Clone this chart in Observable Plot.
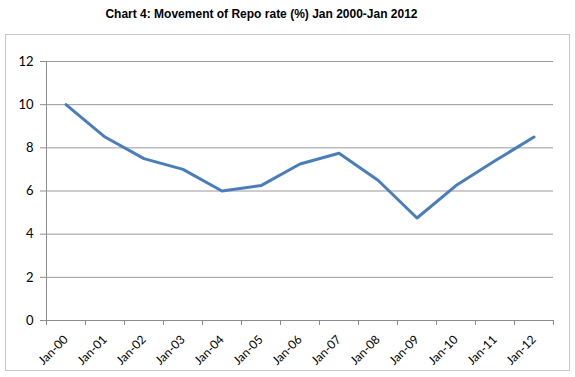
<!DOCTYPE html>
<html><head><meta charset="utf-8">
<script src="https://cdn.jsdelivr.net/npm/d3@7"></script>
<script src="https://cdn.jsdelivr.net/npm/@observablehq/plot@0.6"></script>
<style>
body{margin:0;background:#fff;}
#wrap{position:relative;width:575px;height:377px;}
#title{position:absolute;left:0;top:7px;width:523px;text-align:center;font:bold 12px "Liberation Sans",Arial,sans-serif;color:#000;}
#box{position:absolute;left:5px;top:34px;width:563px;height:335px;border:1px solid #c8c8c8;}
#box svg{display:block;}
</style></head><body>
<div id="wrap"><div id="title">Chart 4: Movement of Repo rate (%) Jan 2000-Jan 2012</div><div id="box"></div></div>
<script>
const categories = ["Jan-00","Jan-01","Jan-02","Jan-03","Jan-04","Jan-05","Jan-06","Jan-07","Jan-08","Jan-09","Jan-10","Jan-11","Jan-12"];
const values = [10, 8.5, 7.5, 7, 6, 6.25, 7.25, 7.75, 6.5, 4.75, 6.25, 7.4, 8.5];
const yTicks = [0, 2, 4, 6, 8, 10, 12];

const data = categories.map((c, i) => ({i, c, v: values[i]}));
const centers = d3.range(categories.length);
const edges = d3.range(categories.length + 1).map(i => i - 0.5);

const chart = Plot.plot({
  width: 563, height: 335,
  marginLeft: 40, marginRight: 16, marginTop: 26, marginBottom: 50,
  style: {fontFamily: "Lato, 'Open Sans', sans-serif", fontSize: "13px", color: "#000", background: "transparent"},
  x: {type: "linear", domain: [-0.5, categories.length - 0.5]},
  y: {domain: [0, 12]},
  marks: [
    Plot.gridY(yTicks, {stroke: "#9a9a9a", strokeOpacity: 1}),
    Plot.frame({anchor: "left", stroke: "#8c8c8c"}),
    Plot.frame({anchor: "bottom", stroke: "#8c8c8c"}),
    Plot.axisY(yTicks, {tickSize: 6, tickPadding: 7, stroke: "#8c8c8c", label: null}),
    Plot.axisX(edges, {tickSize: 5, tickFormat: () => "", stroke: "#8c8c8c", label: null}),
    Plot.axisX(centers, {tickSize: 0, tickPadding: 17, fontSize: 12, tickFormat: i => categories[i], tickRotate: -45, label: null}),
    Plot.lineY(data, {x: "i", y: "v", stroke: "#4a7ebb", strokeWidth: 3})
  ]
});
document.getElementById("box").appendChild(chart);
</script>
</body></html>
